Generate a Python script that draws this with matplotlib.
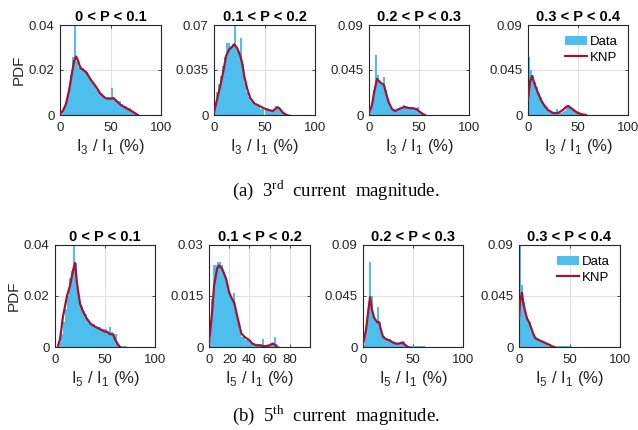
import numpy as np
import matplotlib
matplotlib.use("Agg")
import matplotlib.pyplot as plt

plt.rcParams['font.family'] = ['Liberation Sans', 'DejaVu Sans']
plt.rcParams['mathtext.fontset'] = 'custom'
plt.rcParams['mathtext.rm'] = 'Liberation Serif'
plt.rcParams['mathtext.sf'] = 'Liberation Sans'

# ---------------- data ----------------
bin_edges = np.arange(0, 82, 2)  # 2 %-wide bins, 0..80

titles = ['0 < P < 0.1', '0.1 < P < 0.2', '0.2 < P < 0.3', '0.3 < P < 0.4']

# 3rd harmonic histograms (PDF per 2 % bin)
h3_p1 = [0.001, 0.002, 0.004, 0.007, 0.012, 0.018, 0.026, 0.040, 0.024, 0.021,
         0.022, 0.021, 0.020, 0.019, 0.017, 0.016, 0.014, 0.013, 0.011, 0.010,
         0.009, 0.008, 0.007, 0.007, 0.008, 0.012, 0.007, 0.007, 0.006, 0.006,
         0.005, 0.004, 0.004, 0.003, 0.003, 0.002, 0.001, 0.001, 0.0005, 0.0]
h3_p2 = [0.005, 0.018, 0.024, 0.030, 0.038, 0.045, 0.056, 0.056, 0.054, 0.055,
         0.070, 0.052, 0.050, 0.060, 0.040, 0.025, 0.018, 0.014, 0.011, 0.009,
         0.008, 0.007, 0.006, 0.005, 0.005, 0.004, 0.004, 0.004, 0.003, 0.005,
         0.007, 0.006, 0.004, 0.002, 0.001, 0.001, 0.0005, 0.0005, 0.0, 0.0]
h3_p3 = [0.003, 0.012, 0.025, 0.060, 0.040, 0.033, 0.030, 0.038, 0.025, 0.015,
         0.008, 0.005, 0.004, 0.004, 0.005, 0.006, 0.008, 0.010, 0.009, 0.008,
         0.008, 0.008, 0.007, 0.007, 0.008, 0.003, 0.001, 0.001, 0.0005, 0.0005,
         0.0005, 0.0005, 0.0005, 0.0005, 0.0005, 0.0005, 0.0005, 0.0, 0.0, 0.0]
h3_p4 = [0.058, 0.045, 0.040, 0.033, 0.028, 0.022, 0.018, 0.013, 0.010, 0.008,
         0.005, 0.004, 0.003, 0.002, 0.006, 0.002, 0.002, 0.003, 0.004, 0.009,
         0.010, 0.008, 0.006, 0.004, 0.003, 0.002, 0.001, 0.001, 0.0005, 0.0005,
         0.0005, 0.0, 0.0, 0.0, 0.0, 0.0, 0.0, 0.0, 0.0, 0.0]

# 3rd harmonic KNP curves
k3_p1_x = [0, 3, 6, 9, 12, 14, 16, 18, 20, 23, 26, 30, 35, 40, 45, 50, 53, 56, 60, 65, 70, 75, 77]
k3_p1_y = [0.0005, 0.002, 0.005, 0.011, 0.019, 0.024, 0.026, 0.024, 0.021, 0.020, 0.019,
           0.016, 0.013, 0.0095, 0.0075, 0.0072, 0.0075, 0.0062, 0.0045, 0.0032, 0.002, 0.0006, 0.0]
k3_p2_x = [0, 3, 6, 9, 12, 15, 18, 20, 23, 26, 28, 30, 33, 36, 40, 45, 50, 55, 58, 61, 63, 65, 68, 70, 72]
k3_p2_y = [0.002, 0.012, 0.022, 0.033, 0.046, 0.051, 0.053, 0.055, 0.052, 0.046, 0.040, 0.030,
           0.020, 0.013, 0.009, 0.007, 0.005, 0.0038, 0.003, 0.005, 0.006, 0.005, 0.002, 0.001, 0.0]
k3_p3_x = [0, 3, 5, 8, 10, 12, 15, 17, 20, 23, 26, 30, 35, 40, 45, 48, 51, 54, 56]
k3_p3_y = [0.002, 0.010, 0.022, 0.036, 0.034, 0.032, 0.030, 0.022, 0.012, 0.006, 0.004,
           0.006, 0.008, 0.007, 0.0065, 0.0055, 0.003, 0.001, 0.0]
k3_p4_x = [0, 2, 4, 7, 10, 13, 16, 20, 25, 30, 35, 38, 40, 43, 47, 50, 55, 58]
k3_p4_y = [0.015, 0.033, 0.039, 0.030, 0.022, 0.015, 0.010, 0.005, 0.002, 0.002, 0.005,
           0.008, 0.009, 0.007, 0.004, 0.002, 0.0005, 0.0]

# 5th harmonic histograms
h5_p1 = [0.0, 0.0005, 0.002, 0.005, 0.010, 0.015, 0.020, 0.027, 0.030, 0.040,
         0.033, 0.022, 0.018, 0.016, 0.014, 0.013, 0.011, 0.010, 0.009, 0.009,
         0.008, 0.008, 0.008, 0.007, 0.007, 0.007, 0.006, 0.008, 0.006, 0.005,
         0.005, 0.001, 0.0005, 0.0005, 0.0005, 0.0005, 0.0, 0.0, 0.0, 0.0]
h5_p2 = [0.002, 0.014, 0.024, 0.024, 0.025, 0.025, 0.024, 0.022, 0.020, 0.018,
         0.016, 0.014, 0.016, 0.011, 0.008, 0.005, 0.003, 0.003, 0.002, 0.002,
         0.002, 0.001, 0.001, 0.001, 0.001, 0.001, 0.0025, 0.0005, 0.0005, 0.0005,
         0.0005, 0.001, 0.003, 0.001, 0.0002, 0.0, 0.0, 0.0, 0.0, 0.0]
h5_p3 = [0.002, 0.015, 0.030, 0.075, 0.045, 0.027, 0.022, 0.035, 0.022, 0.012,
         0.010, 0.008, 0.007, 0.007, 0.005, 0.004, 0.003, 0.003, 0.003, 0.004,
         0.005, 0.002, 0.001, 0.0005, 0.0005, 0.0005, 0.0005, 0.0005, 0.0005, 0.0005,
         0.0005, 0.0, 0.0, 0.0, 0.0, 0.0, 0.0, 0.0, 0.0, 0.0]
h5_p4 = [0.090, 0.055, 0.040, 0.030, 0.025, 0.022, 0.015, 0.010, 0.008, 0.007,
         0.006, 0.005, 0.004, 0.003, 0.002, 0.001, 0.001, 0.001, 0.001, 0.001,
         0.001, 0.001, 0.0005, 0.0005, 0.0005, 0.0005, 0.0, 0.0, 0.0, 0.0,
         0.0, 0.0, 0.0, 0.0, 0.0, 0.0, 0.0, 0.0, 0.0, 0.0]

# 5th harmonic KNP curves
k5_p1_x = [3, 5, 8, 12, 15, 18, 20, 22, 25, 28, 32, 36, 40, 45, 50, 52, 55, 58, 60, 63, 65]
k5_p1_y = [0.0005, 0.003, 0.012, 0.020, 0.024, 0.030, 0.033, 0.025, 0.017, 0.014, 0.011,
           0.009, 0.008, 0.007, 0.006, 0.006, 0.005, 0.005, 0.003, 0.001, 0.0]
k5_p2_x = [0, 3, 5, 8, 10, 13, 17, 20, 23, 25, 28, 32, 35, 40, 43, 47, 50, 55, 60, 63, 65, 67]
k5_p2_y = [0.001, 0.010, 0.018, 0.023, 0.024, 0.023, 0.020, 0.016, 0.014, 0.013, 0.009,
           0.004, 0.003, 0.002, 0.001, 0.0005, 0.0005, 0.0002, 0.0005, 0.001, 0.0007, 0.0]
k5_p3_x = [0, 3, 5, 7, 9, 11, 14, 16, 18, 20, 23, 26, 30, 33, 36, 39, 42, 45]
k5_p3_y = [0.002, 0.015, 0.030, 0.044, 0.033, 0.026, 0.022, 0.022, 0.015, 0.009, 0.007,
           0.006, 0.004, 0.003, 0.003, 0.004, 0.002, 0.0]
k5_p4_x = [0, 1, 3, 4, 6, 8, 10, 12, 14, 16, 20, 25, 30, 33, 35]
k5_p4_y = [0.025, 0.040, 0.048, 0.040, 0.032, 0.025, 0.022, 0.017, 0.012, 0.008, 0.006,
           0.004, 0.002, 0.0005, 0.0]

y_limits_3 = [0.04, 0.07, 0.09, 0.09]
y_ticks_3 = [['0', '0.02', '0.04'], ['0', '0.035', '0.07'], ['0', '0.045', '0.09'], ['0', '0.045', '0.09']]
y_limits_5 = [0.04, 0.03, 0.09, 0.09]
y_ticks_5 = [['0', '0.02', '0.04'], ['0', '0.015', '0.03'], ['0', '0.045', '0.09'], ['0', '0.045', '0.09']]
x_ticks_5 = [[0, 50, 100], [0, 20, 40, 60, 80], [0, 50, 100], [0, 50, 100]]

# ---------------- style ----------------
BAR = '#4DBEEE'
LINE = '#A2142F'
AX = '#262626'
W, H = 638, 430

fig = plt.figure(figsize=(W / 100, H / 100), dpi=100)

def px_axes(x0, x1, y0, y1):
    return fig.add_axes([x0 / W, 1 - y1 / H, (x1 - x0) / W, (y1 - y0) / H])

top_pos = [(60, 161), (214, 315), (369, 469), (528, 628)]
bot_pos = [(55, 155), (209, 310), (363, 463), (519, 620)]

hist3 = [h3_p1, h3_p2, h3_p3, h3_p4]
knp3 = [(k3_p1_x, k3_p1_y), (k3_p2_x, k3_p2_y), (k3_p3_x, k3_p3_y), (k3_p4_x, k3_p4_y)]
hist5 = [h5_p1, h5_p2, h5_p3, h5_p4]
knp5 = [(k5_p1_x, k5_p1_y), (k5_p2_x, k5_p2_y), (k5_p3_x, k5_p3_y), (k5_p4_x, k5_p4_y)]


def draw(ax, h, k, ylim, ylabels, xticks, title, xlabel, ylabel, legend):
    ax.hist(bin_edges[:-1], bins=bin_edges, weights=h, color=BAR, edgecolor='none',
            label='Data', zorder=2)
    ax.plot(k[0], k[1], color=LINE, lw=1.6, label='KNP', zorder=3)
    ax.set_xlim(0, 100)
    ax.set_ylim(0, ylim)
    ax.set_xticks(xticks)
    ax.set_xticklabels([str(t) for t in xticks])
    ax.set_yticks([0, ylim / 2, ylim])
    ax.set_yticklabels(ylabels)
    ax.grid(True, color='#e0e0e0', lw=0.8, zorder=0)
    ax.set_axisbelow(True)
    for s in ax.spines.values():
        s.set_color(AX)
        s.set_linewidth(0.8)
    ax.tick_params(direction='in', length=2.5, width=0.6, colors=AX, labelsize=9.5,
                   top=True, right=True)
    ax.tick_params(axis='x', pad=5)
    ax.tick_params(axis='y', pad=4)
    ax.set_title(title, fontsize=10.5, fontweight='bold', pad=3, color='black')
    ax.set_xlabel(xlabel, fontsize=12, color=AX, labelpad=2)
    if ylabel:
        ax.set_ylabel(ylabel, fontsize=11, color=AX, labelpad=2)
    if legend:
        ax.legend(loc='upper right', frameon=False, fontsize=9.5, handlelength=1.7,
                  handletextpad=0.2, borderaxespad=0.4, labelspacing=0.3)


for i in range(4):
    ax = px_axes(top_pos[i][0], top_pos[i][1], 25, 115)
    yl = y_ticks_3[i]
    draw(ax, hist3[i], knp3[i], y_limits_3[i], yl, [0, 50, 100], titles[i],
         r'I$_\mathsf{3}$ / I$_\mathsf{1}$ (%)', 'PDF' if i == 0 else None, i == 3)

for i in range(4):
    ax = px_axes(bot_pos[i][0], bot_pos[i][1], 245, 347)
    draw(ax, hist5[i], knp5[i], y_limits_5[i], y_ticks_5[i], x_ticks_5[i], titles[i],
         r'I$_\mathsf{5}$ / I$_\mathsf{1}$ (%)', 'PDF' if i == 0 else None, i == 3)

fig.text(336 / W, 1 - 190 / H, r'(a)  3$^{\mathrm{rd}}$  current  magnitude.',
         ha='center', va='center', fontsize=13.5, family='Liberation Serif')
fig.text(336 / W, 1 - 415 / H, r'(b)  5$^{\mathrm{th}}$  current  magnitude.',
         ha='center', va='center', fontsize=13.5, family='Liberation Serif')

fig.savefig('out.png', dpi=100)
